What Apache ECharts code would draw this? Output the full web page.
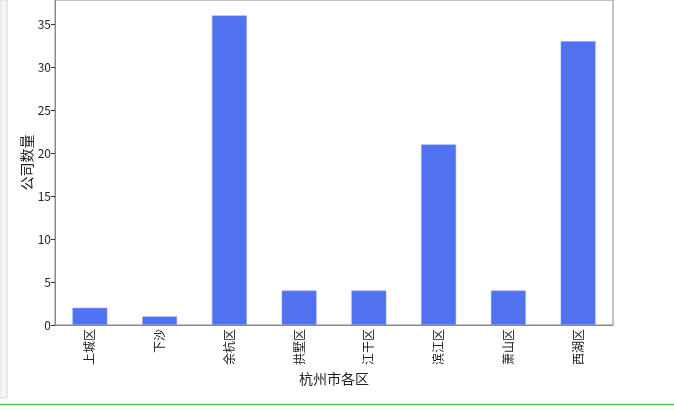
<!DOCTYPE html>
<html><head><meta charset="utf-8">
<script src="https://cdn.jsdelivr.net/npm/echarts@6/dist/echarts.min.js"></script>
<style>html,body{margin:0;padding:0;background:#fff}#c{width:674px;height:410px}</style>
</head><body><div id="c"></div>
<script>
const categories = ['上城区','下沙','余杭区','拱墅区','江干区','滨江区','萧山区','西湖区'];
const counts = [2,1,36,4,4,21,4,33];
const yTicks = [0,5,10,15,20,25,30,35];
const yMax = 37.8;

const chart = echarts.init(document.getElementById('c'));
const font = '"Noto Sans CJK SC", sans-serif';
chart.setOption({
  animation:false,
  grid:{left:55,right:61,top:0,bottom:85,show:true,borderColor:'#888',borderWidth:1},
  xAxis:{type:'category',data:categories,
    name:'杭州市各区',nameLocation:'middle',nameGap:47,nameMoveOverlap:false,
    nameTextStyle:{fontSize:14,color:'#222',fontFamily:font},
    axisLine:{lineStyle:{color:'#888',width:1}},
    axisTick:{alignWithLabel:true,length:4,lineStyle:{color:'#333'}},
    axisLabel:{rotate:90,fontSize:12,color:'#222',margin:4,fontFamily:font}},
  yAxis:{type:'value',min:0,max:yMax,interval:5,
    name:'公司数量',nameLocation:'middle',nameGap:21,nameRotate:90,nameMoveOverlap:false,
    nameTextStyle:{fontSize:14,color:'#222',fontFamily:font},
    axisLine:{show:true,lineStyle:{color:'#888',width:1}},
    axisTick:{show:true,length:4,lineStyle:{color:'#333'}},
    splitLine:{show:false},
    axisLabel:{fontSize:12,color:'#222',margin:4,fontFamily:font,showMaxLabel:false,
      formatter:v=>yTicks.includes(v)?String(v):''}},
  series:[{type:'bar',data:counts,barWidth:'50%',
    itemStyle:{color:'#5072f0',borderColor:'#8ea3f5',borderWidth:0.5}}],
  graphic:[
    {type:'rect',shape:{x:0,y:0,width:7,height:398},style:{fill:'#f6f6f6',stroke:'#d8d8d8',lineWidth:1},z:100},
    {type:'line',shape:{x1:0,y1:404.5,x2:674,y2:404.5},style:{stroke:'#5cc15c',lineWidth:1.5},z:100}
  ]
});
</script></body></html>
